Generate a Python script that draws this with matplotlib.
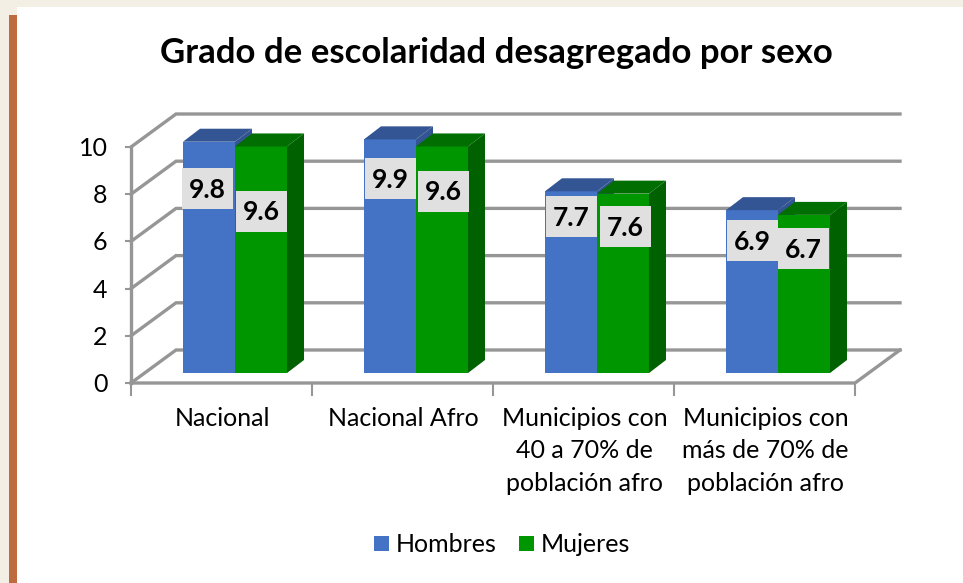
import matplotlib
matplotlib.use("Agg")
import matplotlib.pyplot as plt
from matplotlib.patches import Polygon, Rectangle

categories = ["Nacional", "Nacional Afro", "Municipios con\n40 a 70% de\npoblación afro",
              "Municipios con\nmás de 70% de\npoblación afro"]
hombres = [9.8, 9.9, 7.7, 6.9]
mujeres = [9.6, 9.6, 7.6, 6.7]
y_ticks = [0, 2, 4, 6, 8, 10]
# label box centres, picture pixels
label_x_h = [207, 390, 571, 752]
label_x_m = [261, 443, 625, 803]
label_y_h = [188, 178, 216, 240]
label_y_m = [211, 191, 226, 248]

W, H = 963, 583
plt.rcParams["font.family"] = ["Lato", "DejaVu Sans"]

GRID = "#969696"
BLUE = ("#4472C4", "#335593", "#335593")
GREEN = ("#009600", "#006E00", "#006100")

fig = plt.figure(figsize=(W / 100, H / 100), dpi=100, facecolor="#F3EFE4")


def fig_rect(x, y, w, h, color, zorder=0):
    # x, y = top left in picture pixels
    fig.add_artist(Rectangle((x / W, 1 - (y + h) / H), w / W, h / H, color=color, lw=0,
                             transform=fig.transFigure, zorder=zorder))


fig_rect(17, 7, W - 17, H - 7, "white")
fig_rect(9, 15, 8, H - 15, "#BE6B3F")

# axes = front edge of the 3d box
ax = fig.add_axes([131 / W, 1 - 383 / H, (855 - 131) / W, (383 - 147) / H])
ax.patch.set_alpha(0)
ax.set_xlim(0, 4)
ax.set_ylim(0, 10)
for s in ax.spines.values():
    s.set_visible(False)

# depth of the box and of the bars, in data units
wall_dx, wall_dy = 45 / 181, 33 / 23.6
base_dx, base_dy = 13.5 / 181, 10 / 23.6
bar_dx, bar_dy = 17 / 181, 13 / 23.6
bar_w = 52 / 181

# walls
for t in y_ticks:
    ax.plot([0, wall_dx, 4 + wall_dx], [t, t + wall_dy, t + wall_dy], color=GRID, lw=2.4,
            clip_on=False, zorder=1, solid_joinstyle="miter")
    ax.plot([-0.03, 0], [t, t], color=GRID, lw=1.5, clip_on=False, zorder=1)
ax.plot([0, 0], [0, 10], color=GRID, lw=2.4, clip_on=False, zorder=1)
ax.plot([0, 4, 4 + wall_dx], [0, 0, wall_dy], color=GRID, lw=2.4, clip_on=False, zorder=1)
for i in range(5):
    ax.plot([i, i], [0, -0.5], color=GRID, lw=1.5, clip_on=False, zorder=1)


def bar3d(x0, val, cols, side=True):
    y0 = base_dy
    x0 = x0 + base_dx
    ax.add_patch(Rectangle((x0, y0), bar_w, val, color=cols[0], lw=0, zorder=3, clip_on=False))
    ax.add_patch(Polygon([(x0, y0 + val), (x0 + bar_dx, y0 + val + bar_dy),
                          (x0 + bar_w + bar_dx, y0 + val + bar_dy), (x0 + bar_w, y0 + val)],
                         color=cols[1], lw=0, zorder=3, clip_on=False))
    if side:
        ax.add_patch(Polygon([(x0 + bar_w, y0), (x0 + bar_w + bar_dx, y0 + bar_dy),
                              (x0 + bar_w + bar_dx, y0 + val + bar_dy), (x0 + bar_w, y0 + val)],
                             color=cols[2], lw=0, zorder=3, clip_on=False))


for i in range(len(categories)):
    bar3d(i + 0.5 - bar_w, hombres[i], BLUE)
    bar3d(i + 0.5, mujeres[i], GREEN)

ax.set_xticks([])
ax.set_yticks([])
for t in y_ticks:
    ax.text(-0.13, t - 0.06, str(t), ha="right", va="center", fontsize=18, color="black", clip_on=False)
for i, c in enumerate(categories):
    ax.text(i + 0.505, -1.0, c, ha="center", va="top", fontsize=18, color="black", linespacing=1.5)


def label(cx, cy, v):
    fig_rect(cx - 25.5, cy - 20.5, 51, 41, "#E0E0E0", zorder=5)
    fig.text((cx + 0.5) / W, 1 - (cy + 1.5) / H, f"{v:.1f}", ha="center", va="center", fontsize=19,
             fontweight="bold", color="black", zorder=6)


for i in range(len(categories)):
    label(label_x_h[i], label_y_h[i], hombres[i])
    label(label_x_m[i], label_y_m[i], mujeres[i])

fig.text(496 / W, 1 - 53 / H, "Grado de escolaridad desagregado por sexo", ha="center", va="center",
         fontsize=25, fontweight="bold", color="black")

# legend
fig_rect(374, 536, 15, 15, BLUE[0])
fig.text(396 / W, 1 - 544 / H, "Hombres", ha="left", va="center", fontsize=18)
fig_rect(519, 536, 15, 15, GREEN[0])
fig.text(541 / W, 1 - 544 / H, "Mujeres", ha="left", va="center", fontsize=18)

fig.savefig("out.png", dpi=100, facecolor=fig.get_facecolor())
